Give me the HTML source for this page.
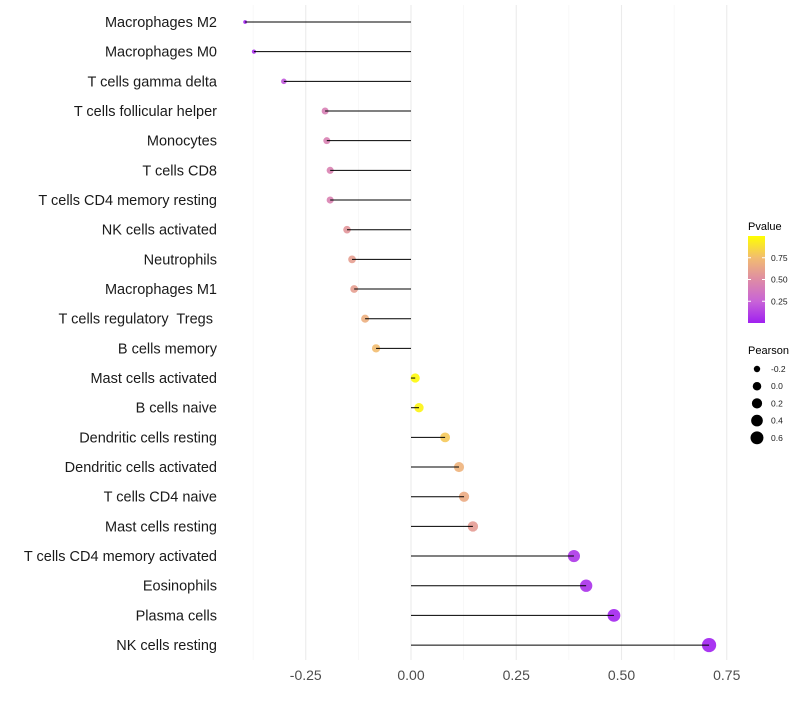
<!DOCTYPE html>
<html><head><meta charset="utf-8"><style>
body{margin:0;background:#fff;font-family:"Liberation Sans",sans-serif}
</style></head><body>
<svg id="c" width="800" height="700" xmlns="http://www.w3.org/2000/svg"></svg>
<script>
const categories=["Macrophages M2","Macrophages M0","T cells gamma delta","T cells follicular helper","Monocytes","T cells CD8","T cells CD4 memory resting","NK cells activated","Neutrophils","Macrophages M1","T cells regulatory  Tregs ","B cells memory","Mast cells activated","B cells naive","Dendritic cells resting","Dendritic cells activated","T cells CD4 naive","Mast cells resting","T cells CD4 memory activated","Eosinophils","Plasma cells","NK cells resting"];
const pearson=[-0.394,-0.373,-0.302,-0.204,-0.2,-0.192,-0.192,-0.152,-0.14,-0.135,-0.109,-0.083,0.01,0.019,0.081,0.114,0.126,0.147,0.387,0.416,0.482,0.708];
const pvalue=[0.0,0.05,0.2,0.42,0.43,0.44,0.44,0.55,0.6,0.6,0.68,0.75,0.98,0.96,0.8,0.7,0.66,0.58,0.08,0.06,0.02,0.001];
const xTicks=[-0.25,0,0.25,0.5,0.75];
const xTickLabels=["-0.25","0.00","0.25","0.50","0.75"];
const xMinor=[-0.375,-0.125,0.125,0.375,0.625];
const pTicks=[0.25,0.5,0.75];
const sizeBreaks=[-0.2,0,0.2,0.4,0.6];

const svg=document.getElementById('c');const NS="http://www.w3.org/2000/svg";
function mk(t,a,p){const e=document.createElementNS(NS,t);for(const k in a)e.setAttribute(k,a[k]);(p||svg).appendChild(e);return e;}
const x=v=>411+v*421;
const y=i=>22+i*29.67;
const r=v=>Math.sqrt(Math.max(1.5,10.2+(v+0.2)*39.75));
const stops=[[0,[160,32,240]],[0.25,[200,100,215]],[0.5,[222,140,165]],[0.75,[242,188,112]],[1,[255,255,0]]];
function col(p){for(let i=1;i<stops.length;i++){if(p<=stops[i][0]){const a=stops[i-1],b=stops[i],t=(p-a[0])/(b[0]-a[0]);return 'rgb('+a[1].map((c,j)=>Math.round(c+(b[1][j]-c)*t)).join(',')+')';}}return 'rgb(255,255,0)';}
const g=mk('g',{});

xMinor.forEach(v=>{mk('line',{x1:x(v),x2:x(v),y1:5,y2:660,stroke:'#f2f2f2','stroke-width':0.6},g)});
xTicks.forEach((v,i)=>{mk('line',{x1:x(v),x2:x(v),y1:5,y2:660,stroke:'#ebebeb','stroke-width':1.1},g);
 const t=mk('text',{x:x(v),y:680,'font-size':14,'text-anchor':'middle',fill:'#4d4d4d'});t.textContent=xTickLabels[i];
 });
categories.forEach((c,i)=>{
 const t=mk('text',{x:217,y:y(i)+5,'font-size':14.5,'text-anchor':'end',fill:'#1a1a1a'});t.textContent=c;
 t.setAttribute('xml:space','preserve');t.style.whiteSpace='pre';
 
 const d=mk('circle',{cx:x(pearson[i]),cy:y(i),r:r(pearson[i])+0.3,fill:col(pvalue[i]),'fill-opacity':0.9});
 
 const l=mk('line',{x1:x(0),x2:x(pearson[i]),y1:y(i),y2:y(i),stroke:'#000','stroke-width':1});
 
});
const lt=mk('text',{x:748,y:230,'font-size':11});lt.textContent='Pvalue';

const defs=mk('defs',{});const lg=mk('linearGradient',{id:'gr',x1:0,y1:1,x2:0,y2:0},defs);
stops.forEach(s=>mk('stop',{offset:s[0],'stop-color':col(s[0])},lg));
const bar=mk('rect',{x:748,y:236,width:17,height:87,fill:'url(#gr)'});

const py=p=>323-p*87;
pTicks.forEach(p=>{mk('line',{x1:748,x2:751,y1:py(p),y2:py(p),stroke:'#fff'});mk('line',{x1:762,x2:765,y1:py(p),y2:py(p),stroke:'#fff'});
 const t=mk('text',{x:771,y:py(p)+3,'font-size':8.5,fill:'#1a1a1a'});t.textContent=p.toFixed(2);
 });
const st=mk('text',{x:748,y:354,'font-size':11});st.textContent='Pearson';

sizeBreaks.forEach((b,i)=>{const yy=369+i*17.2;
 const c=mk('circle',{cx:757,cy:yy,r:r(b),fill:'#000'});
 const t=mk('text',{x:771,y:yy+3,'font-size':8.5,fill:'#1a1a1a'});t.textContent=b.toFixed(1);
 });
</script>
</body></html>
